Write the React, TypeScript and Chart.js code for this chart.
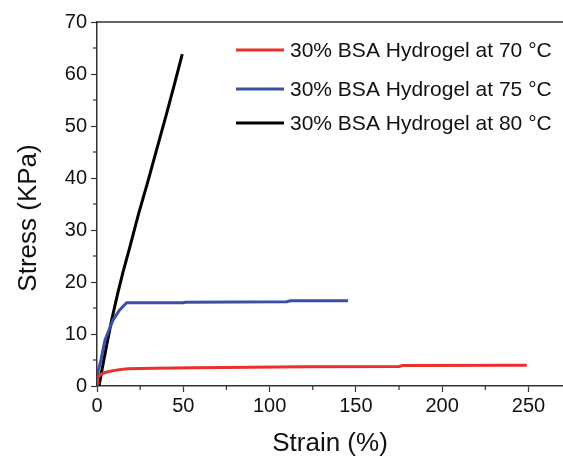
import React, { useEffect, useRef } from "react";
import { Chart, registerables } from "chart.js";

Chart.register(...registerables);

const seriesLabels = [
  "30% BSA Hydrogel at 70 °C",
  "30% BSA Hydrogel at 75 °C",
  "30% BSA Hydrogel at 80 °C",
];
const seriesColors = ["#e8302f", "#3a4fa6", "#000000"];
const xTitle = "Strain (%)";
const yTitle = "Stress (KPa)";

const redStrain = [0, 0.5, 1.5, 3.7, 7, 12, 18, 33, 55, 90, 120, 175, 177, 249];
const redStress = [0.6, 1.5, 2.0, 2.5, 2.8, 3.1, 3.3, 3.4, 3.5, 3.6, 3.7, 3.75, 3.95, 4.0];

const blueStrain = [0, 0.75, 2.3, 4.6, 9.3, 13, 17.2, 50, 51, 110, 112, 145.5];
const blueStress = [0, 3, 5, 8.8, 12.7, 14.6, 16, 16, 16.1, 16.2, 16.4, 16.4];

const blackStrain = [1.2, 3, 5, 8.5, 12, 15, 19.1, 24, 29.7, 35, 40, 45, 49.4];
const blackStress = [0, 3.3, 6.8, 12.7, 17.8, 21.8, 26.8, 33, 39.6, 46, 52, 58.2, 63.8];

const xMajorTicks = [0, 50, 100, 150, 200, 250];
const xMinorTicks = [25, 75, 125, 175, 225];
const yMajorTicks = [0, 10, 20, 30, 40, 50, 60, 70];
const yMinorTicks = [5, 15, 25, 35, 45, 55, 65];

const toPoints = (xs: number[], ys: number[]) => xs.map((x, i) => ({ x, y: ys[i] }));

const FONT = "'Liberation Sans', Arial, sans-serif";
const AXIS_COLOR = "#333";

const decorPlugin = {
  id: "decor",
  afterDraw(chart: any) {
    const ctx = chart.ctx;
    const area = chart.chartArea;
    const xs = chart.scales.x;
    const ys = chart.scales.y;
    ctx.save();
    ctx.strokeStyle = AXIS_COLOR;
    ctx.lineWidth = 1.5;
    ctx.beginPath();
    ctx.moveTo(area.left, area.top);
    ctx.lineTo(area.right, area.top);
    ctx.stroke();
    ctx.lineWidth = 1.2;
    xMinorTicks.forEach((v) => {
      const px = xs.getPixelForValue(v);
      ctx.beginPath();
      ctx.moveTo(px, area.bottom);
      ctx.lineTo(px, area.bottom + 4);
      ctx.stroke();
    });
    yMinorTicks.forEach((v) => {
      const py = ys.getPixelForValue(v);
      ctx.beginPath();
      ctx.moveTo(area.left, py);
      ctx.lineTo(area.left - 4, py);
      ctx.stroke();
    });
    // y axis title
    ctx.save();
    ctx.translate(29, 218);
    ctx.rotate(-Math.PI / 2);
    ctx.font = `26px ${FONT}`;
    ctx.fillStyle = "#111";
    ctx.textAlign = "center";
    ctx.textBaseline = "middle";
    ctx.fillText(yTitle, 0, 0);
    ctx.restore();
    // legend
    const rows = [50, 89, 123];
    ctx.font = `21px ${FONT}`;
    ctx.textBaseline = "middle";
    ctx.textAlign = "left";
    chart.data.datasets.forEach((ds: any, i: number) => {
      const y = rows[i];
      ctx.strokeStyle = ds.borderColor;
      ctx.lineWidth = 3;
      ctx.beginPath();
      ctx.moveTo(236, y);
      ctx.lineTo(284, y);
      ctx.stroke();
      ctx.fillStyle = "#111";
      ctx.fillText(ds.label, 290, y + 1);
    });
    ctx.restore();
  },
};

export default function App() {
  const ref = useRef<HTMLCanvasElement | null>(null);
  useEffect(() => {
    if (!ref.current) return;
    const chart = new Chart(ref.current, {
      type: "line",
      data: {
        datasets: [
          { label: seriesLabels[0], data: toPoints(redStrain, redStress), borderColor: seriesColors[0] },
          { label: seriesLabels[1], data: toPoints(blueStrain, blueStress), borderColor: seriesColors[1] },
          { label: seriesLabels[2], data: toPoints(blackStrain, blackStress), borderColor: seriesColors[2] },
        ].map((d) => ({
          ...d,
          borderWidth: 3,
          pointRadius: 0,
          tension: 0,
          fill: false,
          backgroundColor: d.borderColor,
        })),
      },
      options: {
        animation: false,
        responsive: false,
        maintainAspectRatio: false,
        layout: { padding: { top: 22, right: 0, left: 0, bottom: 0 } },
        plugins: { legend: { display: false }, tooltip: { enabled: false } },
        scales: {
          x: {
            type: "linear",
            min: 0,
            max: 270,
            afterBuildTicks: (s: any) => {
              s.ticks = xMajorTicks.map((v) => ({ value: v }));
            },
            afterFit: (s: any) => {
              s.height = 71;
            },
            ticks: { font: { size: 20, family: FONT }, color: "#111", padding: 2, maxRotation: 0 },
            grid: { drawOnChartArea: false, tickLength: 6, tickColor: AXIS_COLOR, tickWidth: 1.2 },
            border: { display: true, color: AXIS_COLOR, width: 1.5 },
            title: {
              display: true,
              text: xTitle,
              font: { size: 26, family: FONT, lineHeight: 1.0 },
              color: "#111",
              padding: { top: 0, bottom: 0 },
              align: "center",
            },
          },
          y: {
            type: "linear",
            min: 0,
            max: 70,
            afterBuildTicks: (s: any) => {
              s.ticks = yMajorTicks.map((v) => ({ value: v }));
            },
            afterFit: (s: any) => {
              s.width = 97;
            },
            ticks: { font: { size: 20, family: FONT }, color: "#111", padding: 4 },
            grid: { drawOnChartArea: false, tickLength: 6, tickColor: AXIS_COLOR, tickWidth: 1.2 },
            border: { display: true, color: AXIS_COLOR, width: 1.5 },
          },
        },
      },
      plugins: [decorPlugin],
    });
    return () => chart.destroy();
  }, []);
  return (
    <div style={{ position: "absolute", left: 0, top: 0, width: 563, height: 457, background: "#fff" }}>
      <canvas ref={ref} width={563} height={457} />
    </div>
  );
}
